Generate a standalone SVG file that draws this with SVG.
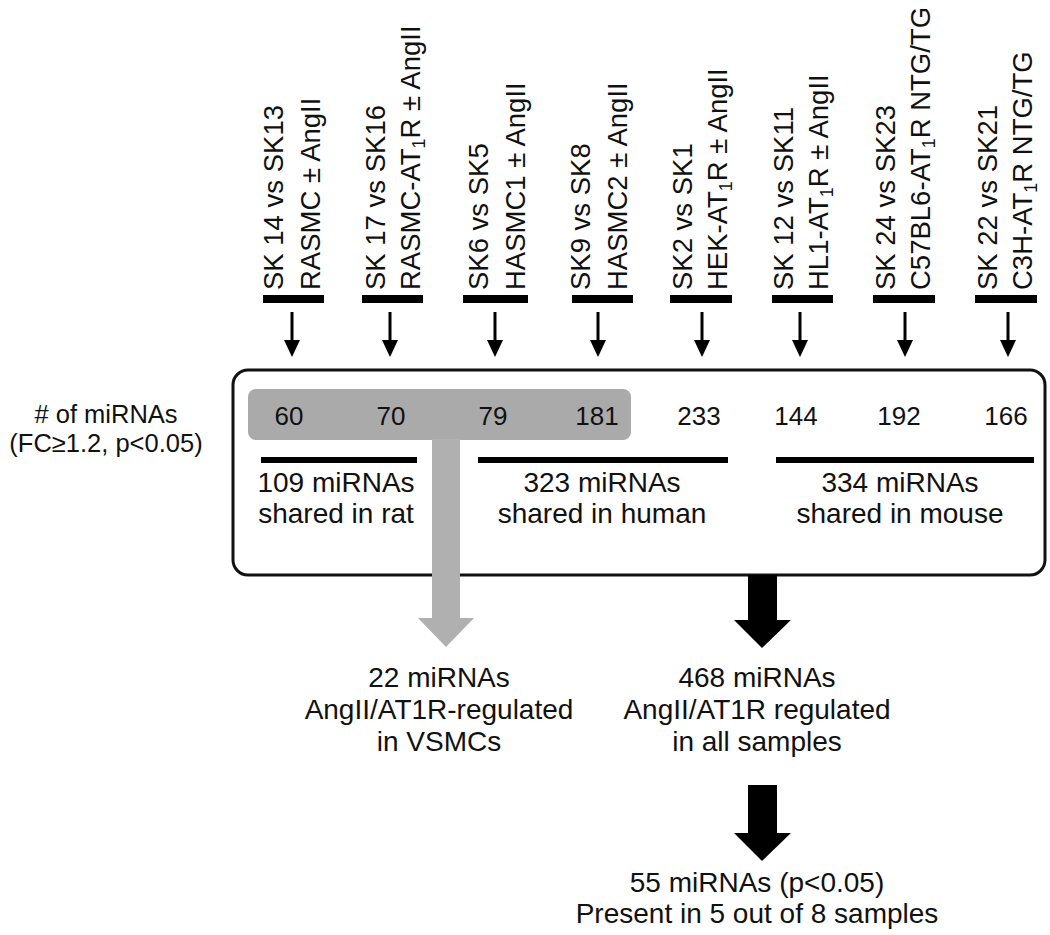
<svg xmlns="http://www.w3.org/2000/svg" width="1050" height="935" viewBox="0 0 1050 935">
<style>
text{font-family:"Liberation Sans",Arial,Helvetica,sans-serif;fill:#111;}
.rot{font-size:27.5px;}
.lbl{font-size:28px;text-anchor:middle;}
.side{font-size:25.5px;text-anchor:middle;}
.num{font-size:26px;text-anchor:middle;}
.sub{font-size:18px;}
.bar{fill:#000;}
.thin{stroke:#000;stroke-width:3;fill:none;}
.head{fill:#000;}
</style>
<defs>
<g id="smallArrow">
<line x1="0" y1="312" x2="0" y2="345" class="thin"/>
<polygon points="-8,340 8,340 0,357" class="head"/>
</g>
</defs>

<g id="col1">
<text class="rot" transform="translate(283,290) rotate(-90)">SK 14 vs SK13</text>
<text class="rot" transform="translate(320,290) rotate(-90)">RASMC ± AngII</text>
<rect class="bar" x="263" y="295" width="61" height="8"/>
</g>
<g id="col2">
<text class="rot" transform="translate(385,290) rotate(-90)">SK 17 vs SK16</text>
<text class="rot" transform="translate(420,290) rotate(-90)">RASMC-AT<tspan class="sub" dy="5">1</tspan><tspan dy="-5">R ± AngII</tspan></text>
<rect class="bar" x="362" y="295" width="61" height="8"/>
</g>
<g id="col3">
<text class="rot" transform="translate(488,290) rotate(-90)">SK6 vs SK5</text>
<text class="rot" transform="translate(525,290) rotate(-90)">HASMC1 ± AngII</text>
<rect class="bar" x="463" y="295" width="65" height="8"/>
</g>
<g id="col4">
<text class="rot" transform="translate(590,290) rotate(-90)">SK9 vs SK8</text>
<text class="rot" transform="translate(627,290) rotate(-90)">HASMC2 ± AngII</text>
<rect class="bar" x="572" y="295" width="61" height="8"/>
</g>
<g id="col5">
<text class="rot" transform="translate(692,290) rotate(-90)">SK2 vs SK1</text>
<text class="rot" transform="translate(727,290) rotate(-90)">HEK-AT<tspan class="sub" dy="5">1</tspan><tspan dy="-5">R ± AngII</tspan></text>
<rect class="bar" x="670" y="295" width="62" height="8"/>
</g>
<g id="col6">
<text class="rot" transform="translate(793,290) rotate(-90)">SK 12 vs SK11</text>
<text class="rot" transform="translate(828,290) rotate(-90)">HL1-AT<tspan class="sub" dy="5">1</tspan><tspan dy="-5">R ± AngII</tspan></text>
<rect class="bar" x="772" y="295" width="61" height="8"/>
</g>
<g id="col7">
<text class="rot" transform="translate(895,290) rotate(-90)">SK 24 vs SK23</text>
<text class="rot" transform="translate(930,290) rotate(-90)">C57BL6-AT<tspan class="sub" dy="5">1</tspan><tspan dy="-5">R NTG/TG</tspan></text>
<rect class="bar" x="873" y="295" width="62" height="8"/>
</g>
<g id="col8">
<text class="rot" transform="translate(997,290) rotate(-90)">SK 22 vs SK21</text>
<text class="rot" transform="translate(1032,290) rotate(-90)">C3H-AT<tspan class="sub" dy="5">1</tspan><tspan dy="-5">R NTG/TG</tspan></text>
<rect class="bar" x="975" y="295" width="62" height="8"/>
</g>

<g id="axis-label">
<text class="side" x="106" y="423"># of miRNAs</text>
<text class="side" x="106" y="452">(FC≥1.2, p&lt;0.05)</text>
</g>

<g id="summary-box">
<rect x="233" y="370" width="812" height="205" rx="15" ry="15" fill="#fff" stroke="#111" stroke-width="3"/>
<rect id="vsmc-highlight" x="248" y="389" width="383" height="51" rx="8" ry="8" fill="#aaaaaa"/>
<text class="num" x="289" y="425">60</text>
<text class="num" x="391" y="425">70</text>
<text class="num" x="493" y="425">79</text>
<text class="num" x="597" y="425">181</text>
<text class="num" x="699" y="425">233</text>
<text class="num" x="796" y="425">144</text>
<text class="num" x="899" y="425">192</text>
<text class="num" x="1006" y="425">166</text>
<rect class="bar" x="261" y="457" width="156" height="6"/>
<rect class="bar" x="478" y="457" width="250" height="6"/>
<rect class="bar" x="776" y="457" width="258" height="6"/>
<text class="lbl" x="336" y="492">109 miRNAs</text>
<text class="lbl" x="336" y="523">shared in rat</text>
<text class="lbl" x="602" y="492">323 miRNAs</text>
<text class="lbl" x="602" y="523">shared in human</text>
<text class="lbl" x="900" y="492">334 miRNAs</text>
<text class="lbl" x="900" y="523">shared in mouse</text>
</g>

<g id="connectors">
<use href="#smallArrow" x="292"/>
<use href="#smallArrow" x="390"/>
<use href="#smallArrow" x="495"/>
<use href="#smallArrow" x="598"/>
<use href="#smallArrow" x="702"/>
<use href="#smallArrow" x="800"/>
<use href="#smallArrow" x="905"/>
<use href="#smallArrow" x="1008"/>
<polygon id="gray-arrow" points="432,439 460,439 460,618 474,618 446,647 418,618 432,618" fill="#b0b0b0"/>
<polygon id="black-arrow-1" points="748,575 777,575 777,620 791,620 762,648 734,620 748,620" fill="#000"/>
<polygon id="black-arrow-2" points="748,785 777,785 777,833 791,833 762,861 734,833 748,833" fill="#000"/>
</g>

<g id="vsmc-result">
<text class="lbl" x="439" y="687">22 miRNAs</text>
<text class="lbl" x="439" y="719">AngII/AT1R-regulated</text>
<text class="lbl" x="439" y="751">in VSMCs</text>
</g>
<g id="all-result">
<text class="lbl" x="757" y="687">468 miRNAs</text>
<text class="lbl" x="757" y="719">AngII/AT1R regulated</text>
<text class="lbl" x="757" y="751">in all samples</text>
</g>
<g id="final-result">
<text class="lbl" x="757" y="892">55 miRNAs (p&lt;0.05)</text>
<text class="lbl" x="757" y="923">Present in 5 out of 8 samples</text>
</g>
</svg>
